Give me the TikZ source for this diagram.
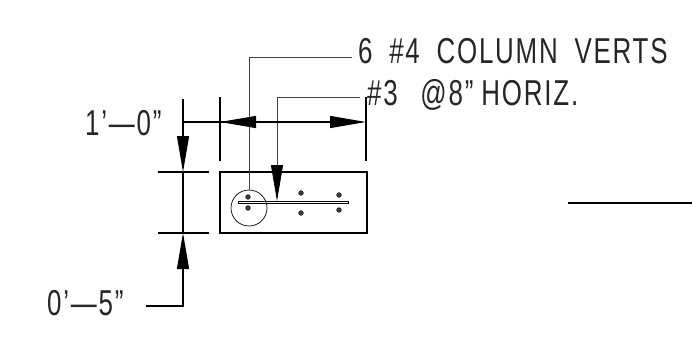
\documentclass[tikz,border=0pt]{standalone}
\usepackage{fontspec}
\setmainfont[FakeStretch=0.72,LetterSpace=5,WordSpace=1.85]{Liberation Sans}
\usetikzlibrary{arrows.meta}

\tikzset{
dimline/.style={draw=black, line width=1.1pt},
leader/.style={draw=black!75, line width=0.8pt},
bigtip/.style={-{Triangle[length=36pt,width=12pt,color=black]}},
caption/.style={inner sep=0pt, anchor=base west, font=\fontsize{36}{36}\selectfont, text=black!85},
rebar/.style={circle, fill=black!75, draw=black, line width=0.5pt, minimum size=4.6pt, inner sep=0pt}
}

\begin{document}
\begin{tikzpicture}[x=1pt,y=-1pt]
\useasboundingbox (0,0) rectangle (692,346);

% wall section
\node[rectangle, draw=black, line width=1.3pt, minimum width=147pt, minimum height=61pt, inner sep=0pt] (wall) at (293.5,202.5) {};
\node[circle, draw=black, line width=0.7pt, minimum size=36pt, inner sep=0pt] (hoop) at (249,208) {};
\node[rectangle, draw=black, line width=0.8pt, minimum width=110pt, minimum height=2.5pt, inner sep=0pt] (bar) at (293,202.5) {};
\node[rebar] (v1) at (248,197) {};
\node[rebar] (v2) at (248,208) {};
\node[rebar] (v3) at (301,193) {};
\node[rebar] (v4) at (301,213) {};
\node[rebar] (v5) at (339,195) {};
\node[rebar] (v6) at (339,210) {};

% texts
\node[caption] (verts) at (358,63) {6 \#4 COLUMN VERTS};
\node[caption] (horiz) at (367,105) {\#3\kern6pt{} @8”\kern8pt{}HORIZ.};
\node[caption] (width) at (85,135) {1’—0”};
\node[caption] (depth) at (47,315) {0’—5”};

% leaders
\coordinate (c1) at (249,57);
\coordinate (c2) at (277,97);
\coordinate (c3) at (277,201);
\draw[leader] (hoop.north) -- (c1) -- (352,57) coordinate (verts end);
\draw[leader] (360,97) coordinate (horiz end) -- (c2);
\draw[leader, bigtip] (c2) -- (c3);

% horizontal dimension
\coordinate (e1) at (220,97);
\coordinate (e2) at (220,161);
\coordinate (e3) at (366,97);
\coordinate (e4) at (366,161);
\coordinate (d1) at (183,122);
\coordinate (d2) at (220,122);
\coordinate (d3) at (366,122);
\draw[dimline] (e1) -- (e2);
\draw[dimline] (e3) -- (e4);
\draw[dimline] (d1) -- (d2);
\draw[dimline, bigtip] (260,122) -- (d2);
\draw[dimline, bigtip] (d2) -- (d3);

% vertical dimension
\coordinate (t1) at (158,172);
\coordinate (t2) at (209,172);
\coordinate (t3) at (158,233);
\coordinate (t4) at (209,233);
\coordinate (a1) at (183,99);
\coordinate (a2) at (183,172);
\coordinate (a3) at (183,233);
\coordinate (a4) at (183,306);
\coordinate (a5) at (146,306);
\draw[dimline] (t1) -- (t2);
\draw[dimline] (t3) -- (t4);
\draw[dimline, bigtip] (a1) -- (a2);
\draw[dimline] (a2) -- (a3);
\draw[dimline, bigtip] (a5) -- (a4) -- (a3);

% line at the right
\coordinate (r1) at (568,203);
\coordinate (r2) at (692,203);
\draw[dimline] (r1) -- (r2);

\end{tikzpicture}
\end{document}
